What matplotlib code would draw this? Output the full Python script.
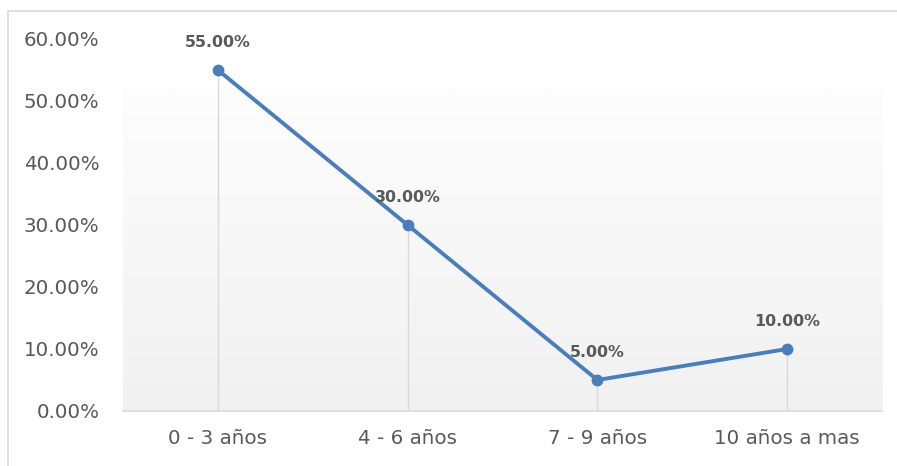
import matplotlib
matplotlib.use("Agg")
import matplotlib.pyplot as plt
import numpy as np
from matplotlib.patches import Rectangle
from matplotlib.colors import LinearSegmentedColormap

categories = ["0 - 3 años", "4 - 6 años", "7 - 9 años", "10 años a mas"]
values = [55.0, 30.0, 5.0, 10.0]
yticks = [0, 10, 20, 30, 40, 50, 60]
ytick_labels = ["0.00%", "10.00%", "20.00%", "30.00%", "40.00%", "50.00%", "60.00%"]
value_labels = ["55.00%", "30.00%", "5.00%", "10.00%"]

W, H = 897, 466
fig = plt.figure(figsize=(W / 100, H / 100), dpi=100)
fig.patch.set_facecolor("white")

# outer chart border
fig.patches.append(Rectangle((8 / W, -0.05), 1.05, 1 - 11 / H + 0.05, transform=fig.transFigure,
                             fill=False, edgecolor="#d9d9d9", linewidth=1.2))

left, right = 123 / W, 882 / W
bottom, top = 1 - 411 / H, 1 - 39 / H
ax = fig.add_axes([left, bottom, right - left, top - bottom])
ax.set_facecolor("white")

x = np.arange(len(categories))
ax.set_xlim(-0.5, len(categories) - 0.5)
ax.set_ylim(0, 60)

# gradient background (white -> light gray toward bottom)
cmap = LinearSegmentedColormap.from_list("g", ["#f1f1f1", "#fdfdfd"])
grad = np.linspace(0, 1, 256).reshape(-1, 1)
ax.imshow(grad, aspect="auto", cmap=cmap, origin="lower",
          extent=(-0.5, len(categories) - 0.5, 0, 52), zorder=0)

# drop lines
ax.vlines(x, 0, values, colors="#d9d9d9", linewidth=1.0, zorder=1)

ax.plot(x, values, color="#4a7ebb", linewidth=2.8, marker="o", markersize=7.5,
        markerfacecolor="#4a7ebb", markeredgecolor="#4a7ebb", zorder=3,
        solid_capstyle="round")

for xi, v, lab in zip(x, values, value_labels):
    ax.annotate(lab, (xi, v), xytext=(0, 20), textcoords="offset points",
                ha="center", va="center", fontsize=11.4, fontweight="bold",
                color="#595959", zorder=4)

ax.set_xticks(x)
ax.set_xticklabels(categories, fontsize=14.3, color="#595959")
ax.set_yticks(yticks)
ax.set_yticklabels(ytick_labels, fontsize=14.3, color="#595959")
ax.tick_params(axis="both", length=0)
ax.tick_params(axis="y", pad=17)
ax.tick_params(axis="x", pad=13)

for s in ["top", "right", "left"]:
    ax.spines[s].set_visible(False)
ax.spines["bottom"].set_color("#d9d9d9")
ax.spines["bottom"].set_linewidth(1.2)

fig.savefig("out.png", dpi=100)
